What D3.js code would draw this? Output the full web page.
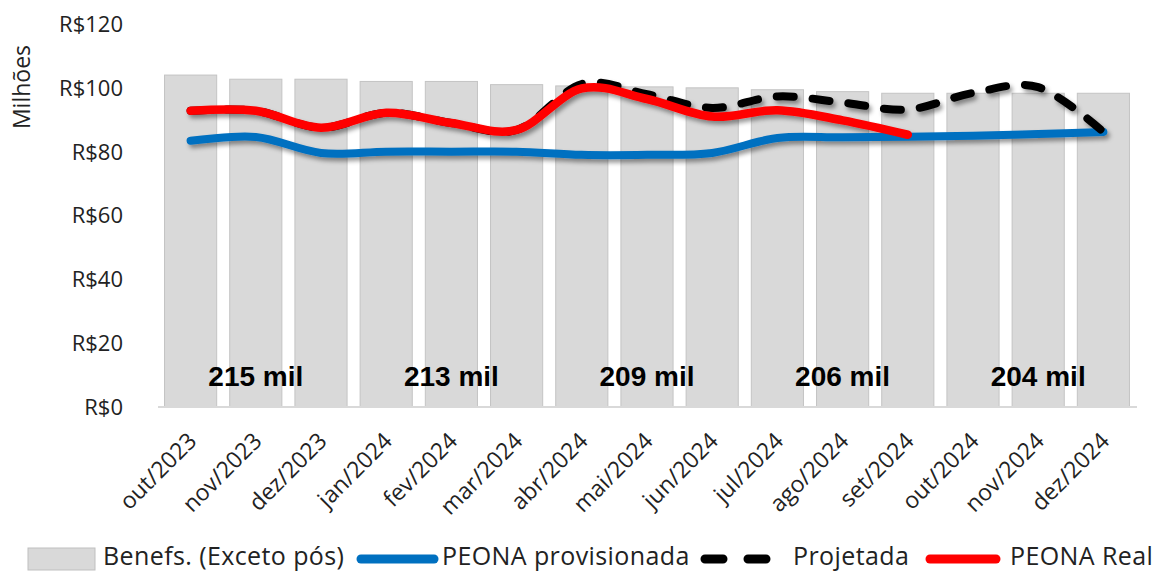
<!DOCTYPE html>
<meta charset="utf-8">
<style>
body { margin: 0; background: #fff; }
text { font-family: "Open Sans", sans-serif; fill: #222; }
</style>
<script src="https://cdn.jsdelivr.net/npm/d3@7/dist/d3.min.js"></script>
<body>
<svg id="chart" width="1162" height="574"></svg>
</body>
<script>

// values (R$ milhões)
var months = ["out/2023","nov/2023","dez/2023","jan/2024","fev/2024","mar/2024","abr/2024",
              "mai/2024","jun/2024","jul/2024","ago/2024","set/2024","out/2024","nov/2024","dez/2024"];
var benefs       = [104, 102.7, 102.7, 102, 102, 101, 100.6, 100.3, 100, 99.4, 98.8, 98.3, 98.3, 98.3, 98.3];
var provisionada = [83.4, 84.6, 79.6, 80, 80, 80, 79, 79, 79.6, 84.3, 84.5, 84.7, 85, 85.5, 86.2];
var projetada    = [92.8, 92.8, 87.5, 92.2, 89, 86.8, 101.2, 98, 93.7, 97.3, 95.4, 93.2, 98.4, 100.2, 86.2];
var peonaReal    = [92.8, 92.8, 87.5, 92.2, 89, 86.8, 99.8, 96.5, 91, 93, 89.8, 85.3];
var yTicks = [0, 20, 40, 60, 80, 100, 120];
var groupMonths = ["nov/2023","fev/2024","mai/2024","ago/2024","nov/2024"];
var groupLabels = ["215 mil","213 mil","209 mil","206 mil","204 mil"];
var legendNames = ["Benefs. (Exceto pós)","PEONA provisionada","Projetada","PEONA Real"];

var svg = d3.select("#chart");

var xScale = d3.scaleBand().domain(months).range([158, 1136]).paddingInner(0.2).paddingOuter(0.1);
var yScale = d3.scaleLinear().domain([0, 120]).range([407, 24]);
var cx = d => xScale(d) + xScale.bandwidth()/2;

// drop shadow for the lines
var defs = svg.append("defs");
defs.append("filter")
    .attr("id", "shadow")
    .attr("x", "-10%").attr("y", "-50%").attr("width", "120%").attr("height", "200%")
  .append("feDropShadow")
    .attr("dx", 2.5).attr("dy", 3.5).attr("stdDeviation", 2)
    .attr("flood-color", "#000").attr("flood-opacity", 0.4);

// bars
svg.append("g").selectAll("rect")
  .data(months)
  .enter()
  .append("rect")
    .attr("x", d => xScale(d))
    .attr("y", (d,i) => yScale(benefs[i]))
    .attr("width", xScale.bandwidth())
    .attr("height", (d,i) => yScale(0) - yScale(benefs[i]))
    .attr("fill", "#d9d9d9")
    .attr("stroke", "#c4c4c4")
    .attr("stroke-width", 1);

// x axis line
svg.append("line")
  .attr("x1", 158).attr("x2", 1137)
  .attr("y1", yScale(0)).attr("y2", yScale(0))
  .attr("stroke", "#d9d9d9").attr("stroke-width", 2);

// y tick labels
svg.append("g").selectAll("text")
  .data(yTicks)
  .enter()
  .append("text")
    .attr("x", 123)
    .attr("y", d => yScale(d))
    .attr("dy", "0.36em")
    .attr("text-anchor", "end")
    .style("font-size", "22px")
    .text(d => "R$" + d);

svg.append("text")
  .attr("transform", "translate(30,87) rotate(-90)")
  .attr("text-anchor", "middle")
  .style("font-size", "23px")
  .text("Milhões");

// x tick labels
svg.append("g").selectAll("text")
  .data(months)
  .enter()
  .append("text")
    .attr("transform", d => `translate(${cx(d) - 4},${431}) rotate(-45)`)
    .attr("text-anchor", "end")
    .attr("dy", "0.7em")
    .style("font-size", "23px")
    .text(d => d);

// group labels inside bars
svg.append("g").selectAll("text")
  .data(groupMonths)
  .enter()
  .append("text")
    .attr("x", d => cx(d))
    .attr("y", 386)
    .attr("text-anchor", "middle")
    .style("font-family", "'Liberation Sans', Arial, sans-serif")
    .style("font-weight", "bold")
    .style("font-size", "28px")
    .style("fill", "#000")
    .text((d,i) => groupLabels[i]);

// lines
var line = d3.line()
  .x(d => cx(d[0]))
  .y(d => yScale(d[1]))
  .curve(d3.curveCatmullRom.alpha(0));

var lines = svg.append("g").attr("filter", "url(#shadow)");

lines.append("path")
  .attr("d", line(d3.zip(months, provisionada)))
  .attr("fill", "none")
  .attr("stroke", "#0070c0")
  .attr("stroke-width", 8)
  .attr("stroke-linecap", "round");

lines.append("path")
  .attr("d", line(d3.zip(months, projetada)))
  .attr("fill", "none")
  .attr("stroke", "#000")
  .attr("stroke-width", 8)
  .attr("stroke-dasharray", "17,19")
  .attr("stroke-linecap", "round");

lines.append("path")
  .attr("d", line(d3.zip(months.slice(0, peonaReal.length), peonaReal)))
  .attr("fill", "none")
  .attr("stroke", "#ff0000")
  .attr("stroke-width", 8.5)
  .attr("stroke-linecap", "round");

// legend
var lg = svg.append("g");
var ly = 559;

lg.append("rect")
  .attr("x", 28).attr("y", 548).attr("width", 67).attr("height", 22)
  .attr("fill", "#d9d9d9").attr("stroke", "#bfbfbf");

lg.append("line")
  .attr("x1", 361).attr("x2", 434).attr("y1", ly).attr("y2", ly)
  .attr("stroke", "#0070c0").attr("stroke-width", 9).attr("stroke-linecap", "round");

lg.append("line")
  .attr("x1", 705).attr("x2", 766).attr("y1", ly).attr("y2", ly)
  .attr("stroke", "#000").attr("stroke-width", 9).attr("stroke-linecap", "round")
  .attr("stroke-dasharray", "18,25");

lg.append("line")
  .attr("x1", 930).attr("x2", 996).attr("y1", ly).attr("y2", ly)
  .attr("stroke", "#ff0000").attr("stroke-width", 9).attr("stroke-linecap", "round");

var legendX = [103, 442, 793, 1010];
lg.selectAll("text.leg")
  .data(legendNames)
  .enter()
  .append("text")
    .classed("leg", true)
    .attr("x", (d,i) => legendX[i])
    .attr("y", 556)
    .attr("dy", "0.36em")
    .style("font-size", "25px")
    .style("letter-spacing", "0.4px")
    .text(d => d);

</script>
